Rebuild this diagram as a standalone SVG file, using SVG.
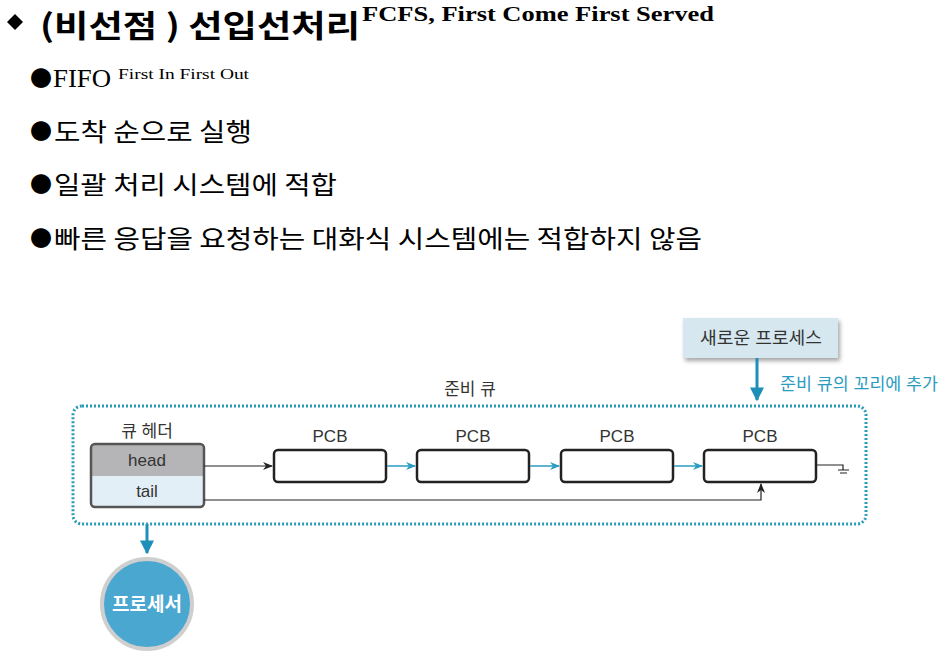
<svg xmlns="http://www.w3.org/2000/svg" width="945" height="655" viewBox="0 0 945 655">
<defs>
<style>
.ko{font-family:"Noto Sans CJK KR","Noto Sans",sans-serif}
.sans{font-family:"Liberation Sans","Noto Sans CJK KR",sans-serif}
.serif{font-family:"Liberation Serif","Noto Sans CJK KR",serif}
.bul{font-family:"Noto Sans CJK KR",sans-serif;font-size:22px}
.pcb{fill:#fff;stroke:#222;stroke-width:2.5}
.lbl{font-size:17px;fill:#333;text-anchor:middle}
.bl{stroke:#222;stroke-width:1.2;fill:none}
.tl{stroke:#2a9cc0;stroke-width:1.5;fill:none}
</style>
<marker id="ab" viewBox="0 0 10 10" refX="9" refY="5" markerWidth="10" markerHeight="10" markerUnits="userSpaceOnUse" orient="auto"><path d="M0,1 L10,5 L0,9 L3,5 Z" fill="#222"/></marker>
<marker id="at" viewBox="0 0 10 10" refX="9" refY="5" markerWidth="10" markerHeight="10" markerUnits="userSpaceOnUse" orient="auto"><path d="M0,1 L10,5 L0,9 L3,5 Z" fill="#2a9cc0"/></marker>
<marker id="atb" viewBox="0 0 10 10" refX="9" refY="5" markerWidth="14" markerHeight="14" markerUnits="userSpaceOnUse" orient="auto"><path d="M0,0 L10,5 L0,10 Z" fill="#1e8fb8"/></marker>
<filter id="sh" x="-10%" y="-20%" width="130%" height="160%"><feDropShadow dx="2" dy="3" stdDeviation="2" flood-color="#000" flood-opacity="0.35"/></filter>
</defs>
<rect width="945" height="655" fill="#fff"/>

<g id="title">
<path d="M15,14 L23,22 L15,30 L7,22 Z" fill="#000"/>
<text x="40" y="37" class="ko" font-size="31" font-weight="bold" textLength="320" lengthAdjust="spacingAndGlyphs">(비선점 ) 선입선처리</text>
<text x="362" y="21" class="serif" font-size="22" font-weight="bold" textLength="352" lengthAdjust="spacingAndGlyphs">FCFS, First Come First Served</text>
</g>

<g id="bullets">
<text x="30" y="86" class="bul">●</text>
<text x="53" y="87" class="serif" font-size="25" textLength="58" lengthAdjust="spacingAndGlyphs">FIFO</text>
<text x="118" y="79" class="serif" font-size="15" textLength="131" lengthAdjust="spacingAndGlyphs">First In First Out</text>
<text x="30" y="139" class="bul">●</text>
<text x="54" y="141" class="ko" font-size="25" textLength="198" lengthAdjust="spacingAndGlyphs">도착 순으로 실행</text>
<text x="30" y="192" class="bul">●</text>
<text x="54" y="194" class="ko" font-size="25" textLength="283" lengthAdjust="spacingAndGlyphs">일괄 처리 시스템에 적합</text>
<text x="30" y="246" class="bul">●</text>
<text x="54" y="248" class="ko" font-size="25" textLength="648" lengthAdjust="spacingAndGlyphs">빠른 응답을 요청하는 대화식 시스템에는 적합하지 않음</text>
</g>

<g id="ready-queue">
<rect x="73" y="406" width="793" height="118" rx="9" fill="none" stroke="#2a9cb5" stroke-width="3" stroke-dasharray="2 2"/>
<text x="470" y="395" class="sans lbl" font-size="17">준비 큐</text>
</g>

<g id="new-process">
<rect x="683" y="318" width="155" height="40" fill="#d6e7ef" filter="url(#sh)"/>
<text x="761" y="344" class="sans lbl" font-size="17" textLength="122" lengthAdjust="spacingAndGlyphs">새로운 프로세스</text>
</g>

<g id="queue-header">
<text x="147" y="437" class="sans lbl">큐 헤더</text>
<rect x="91" y="444" width="113" height="63" rx="4" fill="#e3eff6"/>
<path d="M95,444 H200 A4,4 0 0 1 204,448 V476 H91 V448 A4,4 0 0 1 95,444 Z" fill="#b5b5b7"/>
<rect x="91" y="444" width="113" height="63" rx="4" fill="none" stroke="#555" stroke-width="2.5"/>
<text x="147" y="466" class="sans lbl">head</text>
<text x="147" y="497" class="sans lbl">tail</text>
</g>

<g id="pcb1"><text x="330" y="442" class="sans lbl">PCB</text><rect class="pcb" x="274" y="450" width="112" height="32" rx="4"/></g>
<g id="pcb2"><text x="473" y="442" class="sans lbl">PCB</text><rect class="pcb" x="417" y="450" width="112" height="32" rx="4"/></g>
<g id="pcb3"><text x="617" y="442" class="sans lbl">PCB</text><rect class="pcb" x="561" y="450" width="112" height="32" rx="4"/></g>
<g id="pcb4"><text x="760" y="442" class="sans lbl">PCB</text><rect class="pcb" x="704" y="450" width="112" height="32" rx="4"/></g>

<g id="processor">
<circle cx="147" cy="604" r="45" fill="#4aa7cf" stroke="#cfcfcf" stroke-width="4"/>
<text x="147" y="611" class="ko" font-size="19" font-weight="bold" fill="#fff" text-anchor="middle">프로세서</text>
</g>

<g id="connectors">
<line class="bl" x1="204" y1="466" x2="272" y2="466" marker-end="url(#ab)"/>
<line class="tl" x1="387" y1="466" x2="415" y2="466" marker-end="url(#at)"/>
<line class="tl" x1="530" y1="466" x2="559" y2="466" marker-end="url(#at)"/>
<line class="tl" x1="674" y1="466" x2="702" y2="466" marker-end="url(#at)"/>
<path class="bl" d="M204,500 H761 V484" marker-end="url(#ab)"/>
<path class="bl" d="M816,465 H843 V470"/>
<path class="bl" d="M838,470 H849 M840,473 H847"/>
<line x1="757" y1="358" x2="757" y2="400" stroke="#1e8fb8" stroke-width="3" marker-end="url(#atb)"/>
<text x="780" y="390" class="sans" font-size="17" fill="#2a9cc0" textLength="158" lengthAdjust="spacingAndGlyphs">준비 큐의 꼬리에 추가</text>
<line x1="147" y1="524" x2="147" y2="553" stroke="#1e8fb8" stroke-width="3" marker-end="url(#atb)"/>
</g>
</svg>
